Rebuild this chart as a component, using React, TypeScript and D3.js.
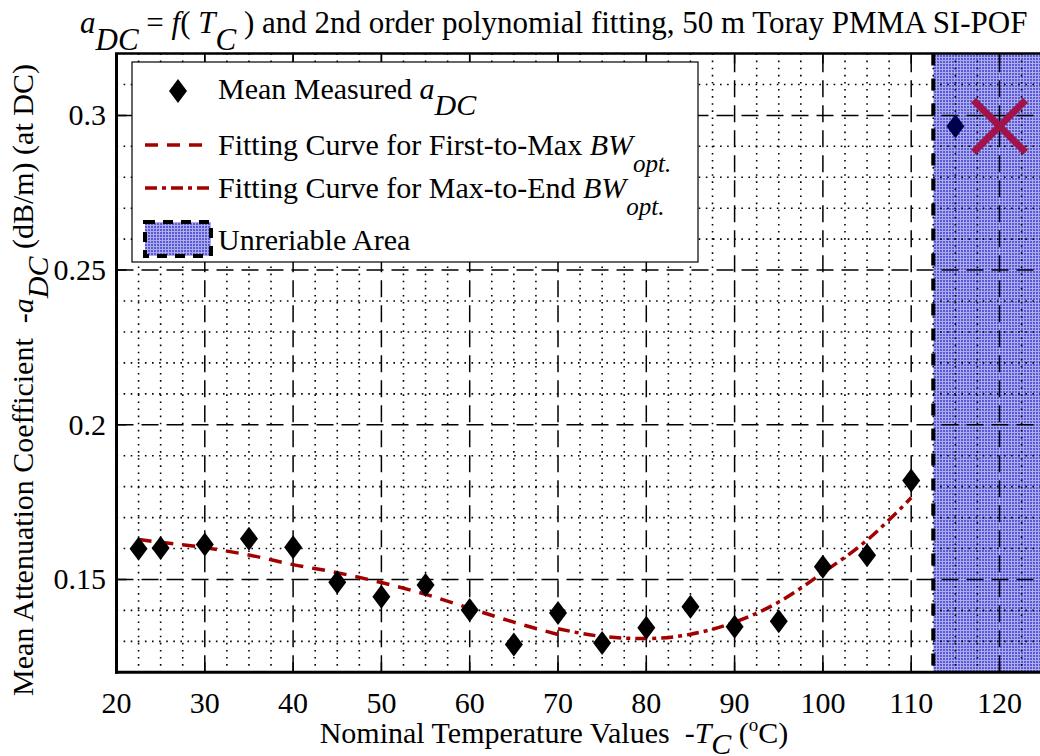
import React from "react";
import * as d3 from "d3";

// ---- data ----
const tempMeasured = [22.5, 25, 30, 35, 40, 45, 50, 55, 60, 65, 70, 75, 80, 85, 90, 95, 100, 105, 110, 115];
const aMeasured = [0.1599, 0.1602, 0.1613, 0.1632, 0.1604, 0.1491, 0.1444, 0.1482, 0.1401, 0.129, 0.1392, 0.1295, 0.1344, 0.1412, 0.1347, 0.1365, 0.1541, 0.1578, 0.182, 0.2965];

const fit1Temp = [22.5, 25, 30, 35, 40, 45, 50, 55, 60, 65, 70];
const fit1Val = [0.1629, 0.162, 0.1603, 0.1579, 0.1548, 0.1522, 0.149, 0.1452, 0.1407, 0.1362, 0.1322];

const fit2Temp = [70, 75, 80, 85, 90, 95, 100, 105, 110];
const fit2Val = [0.1341, 0.1316, 0.1309, 0.1323, 0.1362, 0.1427, 0.1522, 0.1627, 0.1764];

const outlierX = [120];
const outlierY = [0.2965];

const unreliableStart = 112.5;

const xTicks = [20, 30, 40, 50, 60, 70, 80, 90, 100, 110, 120];
const yTicks = [0.15, 0.2, 0.25, 0.3];
const yTickLabels = ["0.15", "0.2", "0.25", "0.3"];

const W = 1040;
const H = 756;
const FONT = '"Liberation Serif", "DejaVu Serif", serif';
const RED = "#a30000";
const FS = 30;

export default function App() {
  const x = d3.scaleLinear().domain([20, 125]).range([116.5, 1043.65]);
  const y = d3.scaleLinear().domain([0.12, 0.32]).range([672.3, 53.5]);
  const x0 = x(20), x1 = x(125), yb = y(0.12), yt = y(0.32);

  const minorX = d3.range(20, 125.001, 2.5).filter((v) => Math.abs(v % 10) > 1e-6);
  const minorY = d3.range(0.12, 0.3201, 0.01).filter((v) => !yTicks.some((t) => Math.abs(t - v) < 1e-6));

  const line = d3.line<[number, number]>().x((d) => x(d[0])).y((d) => y(d[1])).curve(d3.curveMonotoneX);
  const fit1 = line(fit1Temp.map((t, i) => [t, fit1Val[i]]) as [number, number][]) || "";
  const fit2 = line(fit2Temp.map((t, i) => [t, fit2Val[i]]) as [number, number][]) || "";

  const diamond = (cx: number, cy: number) => `M${cx},${cy - 12}L${cx + 9},${cy}L${cx},${cy + 12}L${cx - 9},${cy}Z`;

  const xu = x(unreliableStart);
  const txt: React.CSSProperties = { fontFamily: FONT, whiteSpace: "pre" };

  return (
    <svg width={W} height={H} style={{ position: "absolute", left: 0, top: 0, background: "#fff", fontFamily: FONT }}>
      <defs>
        <pattern id="hatch" width={3} height={3} patternUnits="userSpaceOnUse">
          <rect width={3} height={3} fill="#5a5ad8" />
          <rect width={3} height={1} fill="#fff" opacity={0.5} />
          <rect y={1} width={1} height={2} fill="#fff" opacity={0.5} />
        </pattern>
        <clipPath id="plotclip">
          <rect x={x0} y={yt} width={x1 - x0} height={yb - yt} />
        </clipPath>
      </defs>
      <rect width={W} height={H} fill="#fff" />

      {/* unreliable area texture */}
      <rect x={xu} y={yt} width={x1 - xu} height={yb - yt} fill="url(#hatch)" />

      <g clipPath="url(#plotclip)">
        {/* minor grid */}
        {minorX.map((v) => (
          <line key={"mx" + v} x1={x(v)} x2={x(v)} y1={yt} y2={yb} stroke="#000" strokeWidth={1.6} strokeDasharray="1.6,5.5" />
        ))}
        {minorY.map((v) => (
          <line key={"my" + v} x1={x0} x2={x1} y1={y(v)} y2={y(v)} stroke="#000" strokeWidth={1.6} strokeDasharray="1.6,5.5" />
        ))}
        {/* major grid */}
        {xTicks.map((v) => (
          <line key={"gx" + v} x1={x(v)} x2={x(v)} y1={yb} y2={yt} stroke="#000" strokeWidth={1.5} strokeDasharray="17,8" />
        ))}
        {yTicks.map((v) => (
          <line key={"gy" + v} x1={x0} x2={x1} y1={y(v)} y2={y(v)} stroke="#000" strokeWidth={1.5} strokeDasharray="17,8" />
        ))}
        {/* tick marks */}
        {xTicks.map((v) => (
          <g key={"tx" + v}>
            <line x1={x(v)} x2={x(v)} y1={yb} y2={yb - 10} stroke="#000" strokeWidth={1.5} />
            <line x1={x(v)} x2={x(v)} y1={yt} y2={yt + 10} stroke="#000" strokeWidth={1.5} />
          </g>
        ))}
        {yTicks.map((v) => (
          <line key={"ty" + v} x1={x0} x2={x0 + 10} y1={y(v)} y2={y(v)} stroke="#000" strokeWidth={1.5} />
        ))}

        {/* unreliable border */}
        <line x1={xu} x2={xu} y1={yt} y2={yb} stroke="#000" strokeWidth={4} strokeDasharray="12,13" />

        {/* fitting curves */}
        <path d={fit1} fill="none" stroke={RED} strokeWidth={3.5} strokeDasharray="13,9" />
        <path d={fit2} fill="none" stroke={RED} strokeWidth={3.5} strokeDasharray="12,5,4,5" />

        {/* measured points */}
        {tempMeasured.map((t, i) => (
          <path key={"d" + i} d={diamond(x(t), y(aMeasured[i]))} fill={t > unreliableStart ? "#00004d" : "#000"} />
        ))}

        {/* outlier X */}
        {outlierX.map((t, i) => {
          const cx = x(t), cy = y(outlierY[i]), s = 26;
          return (
            <g key={"x" + i} stroke="#a0144b" strokeWidth={7}>
              <line x1={cx - s} y1={cy - s} x2={cx + s} y2={cy + s} />
              <line x1={cx - s} y1={cy + s} x2={cx + s} y2={cy - s} />
            </g>
          );
        })}
      </g>

      {/* axes frame */}
      <line x1={x0} x2={x0} y1={yt} y2={yb + 1.5} stroke="#000" strokeWidth={3} />
      <line x1={x0 - 1.5} x2={x1} y1={yb} y2={yb} stroke="#000" strokeWidth={3} />
      <line x1={x0 - 1.5} x2={x1} y1={yt} y2={yt} stroke="#000" strokeWidth={2.5} />

      {/* tick labels */}
      {xTicks.map((v) => (
        <text key={"xl" + v} x={x(v)} y={713} textAnchor="middle" fontSize={FS} style={txt}>{v}</text>
      ))}
      {yTicks.map((v, i) => (
        <text key={"yl" + v} x={106} y={y(v) + 10} textAnchor="end" fontSize={FS} style={txt}>{yTickLabels[i]}</text>
      ))}

      {/* title */}
      <text x={80} y={33} fontSize={31} style={txt}>
        <tspan fontStyle="italic">a</tspan>
        <tspan fontStyle="italic" dy={17}>DC</tspan>
        <tspan dy={-17}> = </tspan>
        <tspan fontStyle="italic">f</tspan>
        <tspan>( </tspan>
        <tspan fontStyle="italic">T</tspan>
        <tspan fontStyle="italic" dy={17}>C</tspan>
        <tspan dy={-17}> ) and 2nd order polynomial fitting, 50 m Toray PMMA SI-POF</tspan>
      </text>

      {/* x label */}
      <text x={554} y={743} textAnchor="middle" fontSize={FS} style={txt}>
        <tspan>Nominal Temperature Values  -</tspan>
        <tspan fontStyle="italic">T</tspan>
        <tspan fontStyle="italic" dy={11}>C</tspan>
        <tspan dy={-11}> (</tspan>
        <tspan fontSize={19} dy={-12}>o</tspan>
        <tspan dy={12}>C)</tspan>
      </text>

      {/* y label */}
      <text transform="translate(33,380) rotate(-90)" textAnchor="middle" fontSize={FS} style={txt}>
        <tspan>Mean Attenuation Coefficient  -</tspan>
        <tspan fontStyle="italic">a</tspan>
        <tspan fontStyle="italic" dy={15}>DC</tspan>
        <tspan dy={-15}> (dB/m) (at DC)</tspan>
      </text>

      {/* legend */}
      <g>
        <rect x={132} y={62} width={566} height={200} fill="#fff" stroke="#000" strokeWidth={1.2} />
        <path d={diamond(178, 91)} fill="#000" />
        <text x={218} y={99} fontSize={FS} style={txt}>
          <tspan>Mean Measured </tspan>
          <tspan fontStyle="italic">a</tspan>
          <tspan fontStyle="italic" dy={16}>DC</tspan>
        </text>

        <line x1={145} x2={211} y1={145} y2={145} stroke={RED} strokeWidth={3.5} strokeDasharray="13,9" />
        <text x={218} y={155} fontSize={FS} style={txt}>
          <tspan>Fitting Curve for First-to-Max </tspan>
          <tspan fontStyle="italic">BW</tspan>
          <tspan fontStyle="italic" fontSize={25} dy={17}>opt.</tspan>
        </text>

        <line x1={145} x2={211} y1={188} y2={188} stroke={RED} strokeWidth={3.5} strokeDasharray="12,5,4,5" />
        <text x={218} y={198} fontSize={FS} style={txt}>
          <tspan>Fitting Curve for Max-to-End </tspan>
          <tspan fontStyle="italic">BW</tspan>
          <tspan fontStyle="italic" fontSize={25} dy={17}>opt.</tspan>
        </text>

        <rect x={145} y={222} width={66} height={34} fill="url(#hatch)" stroke="#000" strokeWidth={4} strokeDasharray="10,8" />
        <text x={218} y={250} fontSize={FS} style={txt}>Unreriable Area</text>
      </g>
    </svg>
  );
}
